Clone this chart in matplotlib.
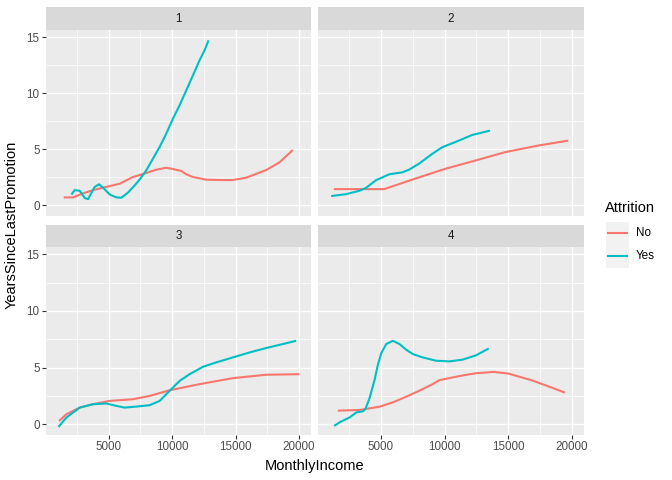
import matplotlib
matplotlib.use("Agg")
import matplotlib.pyplot as plt

plt.rcParams['font.family'] = ['Liberation Sans', 'DejaVu Sans']

# JobLevel facets, smoothed YearsSinceLastPromotion vs MonthlyIncome
panels = ["1", "2", "3", "4"]

no_x = {
    "1": [1457, 2192, 2979, 3765, 5079, 5866, 6916, 7966, 8753, 9541, 10066, 10722, 11116, 11641, 12691, 13714,
          14792, 15842, 17417, 18467, 19517],
    "2": [1302, 5260, 6432, 7734, 10078, 12421, 14765, 17370, 19713],
    "3": [1090, 1667, 2717, 3767, 5079, 6917, 8229, 9804, 12167, 14792, 17417, 20042],
    "4": [1615, 3336, 4898, 5938, 6984, 8023, 9063, 9586, 10625, 11664, 12453, 13854, 15026, 16849, 18411, 19453],
}
no_y = {
    "1": [0.71, 0.71, 1.07, 1.36, 1.72, 1.93, 2.53, 2.89, 3.18, 3.36, 3.24, 3.07, 2.77, 2.53, 2.29, 2.26,
          2.26, 2.47, 3.15, 3.84, 4.94],
    "2": [1.45, 1.45, 1.9, 2.4, 3.27, 4.0, 4.75, 5.34, 5.78],
    "3": [0.29, 0.88, 1.47, 1.77, 2.06, 2.21, 2.5, 3.0, 3.54, 4.07, 4.37, 4.42],
    "4": [1.2, 1.26, 1.55, 1.93, 2.43, 2.96, 3.54, 3.89, 4.13, 4.36, 4.5, 4.62, 4.47, 3.88, 3.24, 2.79],
}
yes_x = {
    "1": [2063, 2323, 2717, 3110, 3373, 3635, 3898, 4238, 4553, 5079, 5604, 6000, 6522, 7047, 7441, 7966,
          8491, 9016, 9541, 10066, 10591, 11116, 11641, 12166, 12560, 12875],
    "2": [1094, 2266, 3307, 3828, 4609, 5651, 6693, 7213, 7995, 9036, 9818, 11120, 12161, 13567],
    "3": [1037, 1667, 2717, 3767, 4817, 5604, 6260, 7179, 8229, 9017, 9804, 10592, 11379, 12429, 13479, 14792,
          16104, 17417, 18729, 19779],
    "4": [1328, 1773, 2555, 3078, 3594, 3805, 4117, 4508, 4766, 5031, 5422, 5938, 6461, 6984, 7500, 8281,
          9328, 10367, 11406, 12453, 13463],
}
yes_y = {
    "1": [0.97, 1.36, 1.3, 0.65, 0.56, 1.1, 1.65, 1.88, 1.58, 0.97, 0.71, 0.68, 1.14, 1.78, 2.3, 3.13,
          4.17, 5.21, 6.4, 7.74, 8.93, 10.27, 11.6, 12.95, 13.84, 14.73],
    "2": [0.83, 1.0, 1.3, 1.56, 2.24, 2.77, 2.95, 3.19, 3.72, 4.6, 5.19, 5.78, 6.28, 6.67],
    "3": [-0.24, 0.59, 1.47, 1.77, 1.83, 1.62, 1.47, 1.56, 1.68, 2.06, 2.95, 3.83, 4.42, 5.07, 5.46, 5.9,
          6.34, 6.73, 7.08, 7.37],
    "4": [-0.15, 0.18, 0.61, 1.05, 1.14, 1.4, 2.34, 3.95, 5.27, 6.29, 7.08, 7.37, 7.08, 6.58, 6.2, 5.9,
          5.61, 5.55, 5.7, 6.08, 6.68],
}

x_ticks = [5000, 10000, 15000, 20000]
y_ticks = [0, 5, 10, 15]
red = "#F8766D"
cyan = "#00BFC4"

W, H = 672, 480
fig = plt.figure(figsize=(6.72, 4.8), dpi=100)

# pixel boxes
cols = [(46, 311), (318, 584)]
rows = [(7, 30, 216), (225, 247, 435)]

def box(l, r, t, b):
    return [l / W, 1 - b / H, (r - l) / W, (b - t) / H]

for i, p in enumerate(panels):
    l, r = cols[i % 2]
    st, pt, pb = rows[i // 2]
    # strip
    sax = fig.add_axes(box(l, r, st, pt))
    sax.set_facecolor("#D9D9D9")
    sax.set_xticks([])
    sax.set_yticks([])
    for s in sax.spines.values():
        s.set_visible(False)
    sax.text(0.5, 0.5, p, ha="center", va="center", fontsize=8.4, color="#1A1A1A",
             transform=sax.transAxes)

    ax = fig.add_axes(box(l, r, pt, pb))
    ax.set_facecolor("#EBEBEB")
    for s in ax.spines.values():
        s.set_visible(False)
    ax.set_xlim(59, 20949)
    ax.set_ylim(-0.95, 15.65)
    ax.set_xticks(x_ticks)
    ax.set_yticks(y_ticks)
    ax.set_xticks([2500, 7500, 12500, 17500], minor=True)
    ax.set_yticks([2.5, 7.5, 12.5], minor=True)
    ax.grid(True, which="major", color="white", linewidth=1.0)
    ax.grid(True, which="minor", color="white", linewidth=0.5)
    ax.set_axisbelow(True)
    ax.tick_params(which="minor", length=0)
    ax.tick_params(which="major", length=2.6, width=0.8, color="#333333",
                   labelsize=8.4, labelcolor="#4D4D4D", pad=2)
    if i % 2 == 1:
        ax.tick_params(axis="y", labelleft=False, length=0)
    if i // 2 == 0:
        ax.tick_params(axis="x", labelbottom=False, length=0)

    ax.plot(no_x[p], no_y[p], color=red, linewidth=1.5, solid_capstyle="butt", solid_joinstyle="round")
    ax.plot(yes_x[p], yes_y[p], color=cyan, linewidth=1.5, solid_capstyle="butt", solid_joinstyle="round")

fig.text(315 / W, 1 - 466 / H, "MonthlyIncome", ha="center", va="center", fontsize=10.5, color="black")
fig.text(12 / W, 1 - 225 / H, "YearsSinceLastPromotion", ha="center", va="center",
         rotation=90, fontsize=10.5, color="black")

# legend
fig.text(605 / W, 1 - 208 / H, "Attrition", ha="left", va="center", fontsize=10.5, color="black")
for k, (lab, col) in enumerate([("No", red), ("Yes", cyan)]):
    cy = 233 + k * 23
    kax = fig.add_axes(box(606, 629, cy - 11.5, cy + 11.5))
    kax.set_facecolor("#F2F2F2")
    kax.set_xticks([])
    kax.set_yticks([])
    for s in kax.spines.values():
        s.set_visible(False)
    kax.set_xlim(0, 1)
    kax.set_ylim(0, 1)
    kax.plot([0.1, 0.9], [0.5, 0.5], color=col, linewidth=1.5)
    fig.text(636 / W, 1 - cy / H, lab, ha="left", va="center", fontsize=8.4, color="black")

fig.savefig("out.png", dpi=100)
